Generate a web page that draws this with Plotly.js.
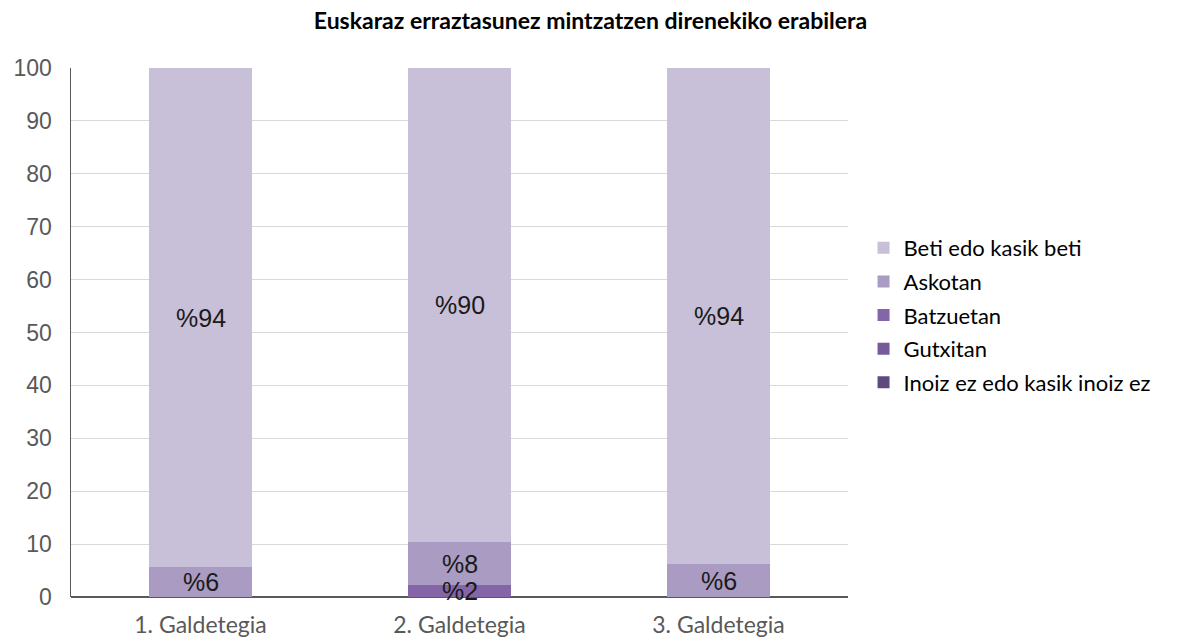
<!DOCTYPE html>
<html>
<head>
<meta charset="utf-8">
<script src="https://cdn.plot.ly/plotly-3.0.1.min.js"></script>
<style>html,body{margin:0;padding:0;background:#fff;}#chart{width:1181px;height:642px;}</style>
</head>
<body>
<div id="chart"></div>
<script>
const categories = ["1. Galdetegia", "2. Galdetegia", "3. Galdetegia"];
const seriesNames = ["Inoiz ez edo kasik inoiz ez", "Gutxitan", "Batzuetan", "Askotan", "Beti edo kasik beti"];
const inoiz = [0, 0, 0];
const gutxitan = [0, 0, 0];
const batzuetan = [0, 2.2, 0];
const askotan = [5.6, 8.2, 6.2];
const beti = [94.4, 89.6, 93.8];
const colors = ["#5f4a80", "#775a99", "#8466a8", "#a99bc2", "#c8bfd8"];

const values = [inoiz, gutxitan, batzuetan, askotan, beti];
const traces = values.map((vals, i) => ({
  type: "bar",
  name: seriesNames[i],
  legendgroup: "g" + i,
  legendrank: 100 - i * 10,
  x: categories,
  y: vals,
  marker: {color: colors[i], line: {width: 0}},
  hoverinfo: "none",
  width: 0.4
}));

// data labels centred in each stacked segment, drawn above all bars
const annotations = [];
categories.forEach((cat, j) => {
  let base = 0;
  values.forEach((vals) => {
    const v = vals[j];
    if (v > 0) {
      annotations.push({
        x: cat, y: base + v / 2, xref: "x", yref: "y",
        text: "%" + Math.round(v), showarrow: false,
        xanchor: "center", yanchor: "middle",
        font: {family: "Liberation Sans, Arial, sans-serif", size: 25, color: "#1a1a1a"}
      });
    }
    base += v;
  });
});

const layout = {
  width: 1181, height: 642,
  margin: {l: 71, r: 333, t: 68, b: 45},
  paper_bgcolor: "#fff", plot_bgcolor: "#fff",
  barmode: "stack",
  showlegend: true,
  annotations: annotations,
  title: {text: "<b>Euskaraz erraztasunez mintzatzen direnekiko erabilera</b>",
    font: {family: "Lato, Carlito, sans-serif", size: 23, color: "#000"},
    x: 0.5, xanchor: "center", y: 0.968, yanchor: "middle"},
  xaxis: {
    showgrid: false, zeroline: false, showline: false, ticks: "",
    tickfont: {family: "Lato, sans-serif", size: 23, color: "#595959"},
    ticklabelstandoff: 12,
    range: [-0.5, 2.5]
  },
  yaxis: {
    range: [0, 100], dtick: 10, tick0: 0,
    showgrid: true, gridcolor: "#d9d9d9", gridwidth: 1,
    zeroline: true, zerolinecolor: "#595959", zerolinewidth: 1.5,
    showline: true, linecolor: "#595959", linewidth: 1.5,
    ticks: "",
    tickfont: {family: "Liberation Sans, Arial, sans-serif", size: 23, color: "#595959"},
    ticklabelstandoff: 13
  },
  legend: {
    x: 1.02, xanchor: "left", y: 0.533, yanchor: "middle",
    traceorder: "grouped",
    font: {family: "Lato, sans-serif", size: 22, color: "#000"},
    itemwidth: 30, tracegroupgap: 2
  }
};

Plotly.newPlot("chart", traces, layout, {displayModeBar: false, staticPlot: true});
</script>
</body>
</html>
